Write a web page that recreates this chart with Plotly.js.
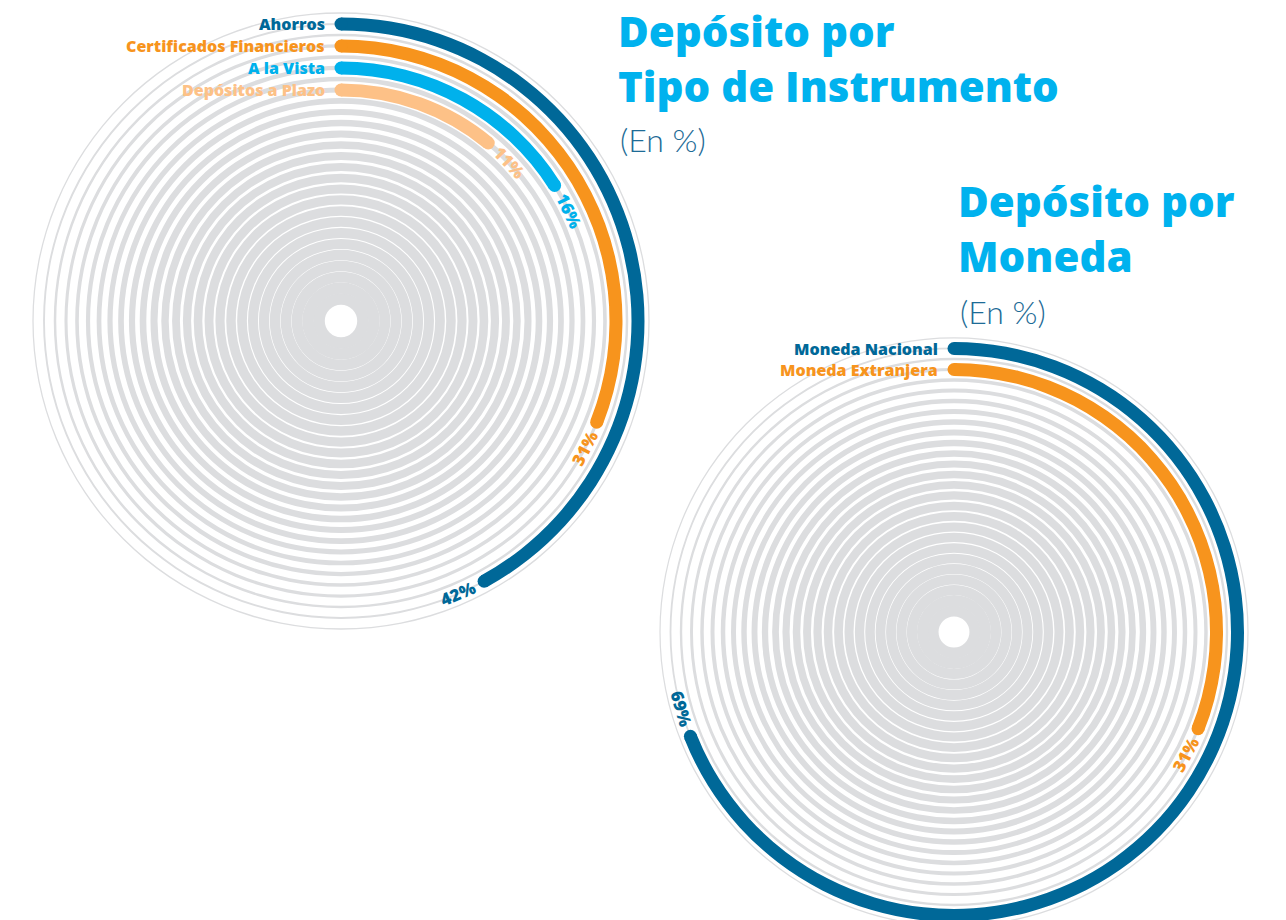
<!DOCTYPE html>
<html><head><meta charset="utf-8">
<script src="https://cdn.plot.ly/plotly-3.0.1.min.js"></script>
<style>
html,body{margin:0;padding:0;background:#fff;overflow:hidden}
#wrap{width:1286px;height:920px;overflow:hidden;position:relative}
#chart{width:1286px;height:960px}
</style></head>
<body><div id="wrap"><div id="chart"></div></div>
<script>
// ---- data ----
const instrumentCategories = ['Ahorros', 'Certificados Financieros', 'A la Vista', 'Depósitos a Plazo'];
const instrumentValues = [42, 31, 16, 11];
const currencyCategories = ['Moneda Nacional', 'Moneda Extranjera'];
const currencyValues = [69, 31];
const instrumentTitle = ['Depósito por', 'Tipo de Instrumento'];
const currencyTitle = ['Depósito por', 'Moneda'];
const unitText = '(En %)';

// ---- styles ----
const instrumentColors = ['#006898', '#f7941d', '#00b1ec', '#fdc187'];
const currencyColors = ['#006898', '#f7941d'];
const titleColor = '#00b2ee';
const subColor = '#1d6b96';
const ringColor = '#dcdddf';

const W = 1286, H = 960;
const charts = [
  {id: 'polar', cx: 341, cy: 321, u: 11, cats: instrumentCategories, vals: instrumentValues, cols: instrumentColors},
  {id: 'polar2', cx: 954, cy: 632, u: 10.5, cats: currencyCategories, vals: currencyValues, cols: currencyColors}
];
const MAXK = 28, RANGE = 28.5, BAR_PX = 13;
const pctToDeg = 360 / 100;

const traces = [];
const annotations = [];
const layout = {
  width: W, height: H, margin: {l: 0, r: 0, t: 0, b: 0},
  paper_bgcolor: '#fff', showlegend: false, hovermode: false, annotations: annotations
};

function toPaper(px, py) { return {x: px / W, y: 1 - py / H}; }
function polarPx(c, k, deg) {
  const a = deg * Math.PI / 180;
  return [c.cx + k * c.u * Math.sin(a), c.cy - k * c.u * Math.cos(a)];
}

charts.forEach((c, ci) => {
  const R = RANGE * c.u;
  layout[c.id] = {
    domain: {x: [(c.cx - R) / W, (c.cx + R) / W], y: [1 - (c.cy + R) / H, 1 - (c.cy - R) / H]},
    bgcolor: 'rgba(0,0,0,0)',
    radialaxis: {visible: false, range: [0, RANGE]},
    angularaxis: {visible: false, direction: 'clockwise', rotation: 90}
  };
  // background rings (decoration)
  const rr = [], rb = [], rt = [], rw = [];
  for (let k = 2; k <= MAXK; k++) {
    let wpx = 11 * (1 - Math.pow(k / 30, 1.8));
    if (k <= 3) wpx = 11.6;
    wpx = Math.max(wpx, 1.1) * c.u / 11;
    rr.push(wpx / c.u); rb.push(k - wpx / c.u / 2); rt.push(180); rw.push(360);
  }
  traces.push({type: 'barpolar', subplot: c.id, r: rr, base: rb, theta: rt, width: rw,
    marker: {color: ringColor, line: {width: 0}}, hoverinfo: 'skip'});
  // data bars
  const t = BAR_PX / c.u;
  const ks = c.vals.map((v, i) => MAXK - 1 - 2 * i);
  const sweeps = c.vals.map(v => v * pctToDeg);
  traces.push({type: 'barpolar', subplot: c.id,
    r: c.vals.map(() => t), base: ks.map(k => k - t / 2),
    theta: sweeps.map(s => s / 2), width: sweeps,
    marker: {color: c.cols, line: {width: 0}}, hoverinfo: 'skip'});
  // round caps
  traces.push({type: 'scatterpolar', subplot: c.id, mode: 'markers', cliponaxis: false,
    r: ks.concat(ks), theta: sweeps.map(() => 0).concat(sweeps),
    marker: {size: BAR_PX, color: c.cols.concat(c.cols), line: {width: 0}}, hoverinfo: 'skip'});
  // category labels at bar start
  c.cats.forEach((name, i) => {
    const [px, py] = polarPx(c, ks[i], 0);
    const p = toPaper(px - 14, py);
    annotations.push({x: p.x, y: p.y, xref: 'paper', yref: 'paper', xanchor: 'right', yanchor: 'middle',
      text: name, showarrow: false, font: {family: 'Open Sans', size: 16, color: c.cols[i], weight: 800}});
  });
  // value labels after bar end
  c.vals.forEach((v, i) => {
    const k = ks[i];
    const off = 29 / (k * c.u) * 180 / Math.PI;
    const th = sweeps[i] + off;
    const [px, py] = polarPx(c, k, th);
    const p = toPaper(px, py);
    const ang = th <= 90 ? th : th - 180;
    annotations.push({x: p.x, y: p.y, xref: 'paper', yref: 'paper', xanchor: 'center', yanchor: 'middle',
      text: v + '%', textangle: ang, showarrow: false,
      font: {family: 'Open Sans', size: 17, color: c.cols[i], weight: 800}});
  });
});

// titles
function addTitle(lines, x, yMid, ySub) {
  const p = toPaper(x, yMid);
  annotations.push({x: p.x, y: p.y, xref: 'paper', yref: 'paper', xanchor: 'left', yanchor: 'middle', align: 'left',
    text: lines.join('<br>'), showarrow: false, font: {family: 'Open Sans', size: 42, color: titleColor, weight: 800}});
  const q = toPaper(x + 2, ySub);
  annotations.push({x: q.x, y: q.y, xref: 'paper', yref: 'paper', xanchor: 'left', yanchor: 'middle',
    text: unitText, showarrow: false, font: {family: 'Lato', size: 32, color: subColor, weight: 300}});
}
addTitle(instrumentTitle, 616, 58, 139);
addTitle(currencyTitle, 956, 228, 311);

Plotly.newPlot('chart', traces, layout, {staticPlot: true, displayModeBar: false});
</script>
</body></html>
